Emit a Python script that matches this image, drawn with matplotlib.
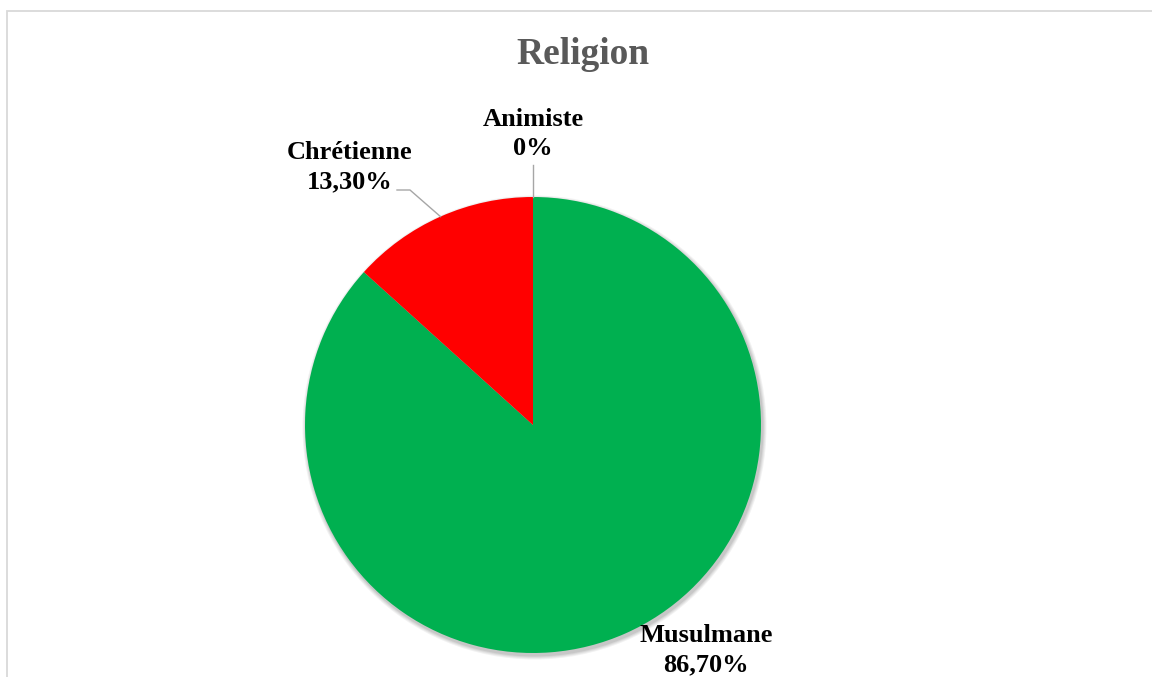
import numpy as np
import matplotlib.pyplot as plt
from matplotlib.patches import Circle

# data
religions = ['Musulmane', 'Chrétienne', 'Animiste']
shares = [86.7, 13.3, 0.0]
share_labels = ['86,70%', '13,30%', '0%']
colors = ['#00B050', '#FF0000', '#A5A5A5']

plt.rcParams['font.family'] = ['Liberation Serif', 'DejaVu Serif']

W, H = 1152, 677
fig = plt.figure(figsize=(W / 100, H / 100), dpi=100)
ax = fig.add_axes([0, 0, 1, 1])
ax.set_xlim(0, W)
ax.set_ylim(0, H)
ax.set_aspect('equal')
ax.axis('off')

# pie geometry in pixel space (y up)
cx, cy, r = 533, H - 425, 228

# soft shadow under the pie
for i, a in enumerate([0.05, 0.05, 0.06, 0.07]):
    ax.add_patch(Circle((cx + 1.5, cy - 2.5), r + 4 - i, color='black', alpha=a, lw=0, zorder=1))

wedges, _ = ax.pie(shares, colors=colors, startangle=90, counterclock=False,
                   center=(cx, cy), radius=r, frame=True,
                   wedgeprops=dict(linewidth=0, zorder=2))
ax.set_xlim(0, W)
ax.set_ylim(0, H)
ax.axis('off')

# label positions (pixels, y measured from top)
label_pos = [(706, 650), (350, 167), (533, 134)]
for name, lab, (lx, ly) in zip(religions, share_labels, label_pos):
    ax.text(lx, H - ly, name + '\n' + lab, ha='center', va='center',
            fontsize=19, fontweight='bold', color='black', linespacing=1.38, zorder=5)

# leader lines from wedge edges
def edge_point(w):
    ang = np.deg2rad((w.theta1 + w.theta2) / 2)
    return cx + r * np.cos(ang), cy + r * np.sin(ang)

ex, ey = edge_point(wedges[1])
ax.plot([397, 410, ex], [H - 190, H - 190, ey], color='#A6A6A6', lw=1, zorder=4)
ex, ey = edge_point(wedges[2])
ax.plot([ex, ex], [H - 165, ey], color='#A6A6A6', lw=1, zorder=4)

# title
ax.text(583, H - 55, 'Religion', ha='center', va='center', fontsize=27,
        fontweight='bold', color='#595959')

# chart area border (left and top visible)
ax.plot([7, 7, W], [0, H - 10.5, H - 10.5], color='#D9D9D9', lw=1.3, zorder=6,
        solid_joinstyle='miter')

fig.savefig('out.png', dpi=100)
